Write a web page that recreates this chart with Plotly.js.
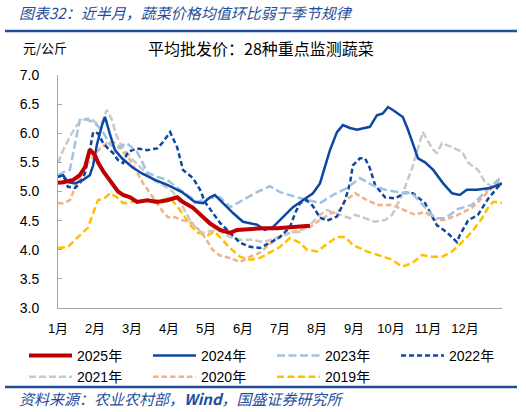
<!DOCTYPE html>
<html>
<head>
<meta charset="utf-8">
<script src="https://cdn.plot.ly/plotly-3.0.1.min.js"></script>
<style>
  body { margin: 0; background: #fff; }
  #chart { width: 526px; height: 412px; }
</style>
</head>
<body>
<div id="chart"></div>
<script>
// 月份标签（x 轴：从 1 月 1 日起的月数）
let monthLabels = ['1月','2月','3月','4月','5月','6月','7月','8月','9月','10月','11月','12月'];

// 各年份数据：x 为月份位置，y 为 元/公斤
let x2025 = [0,0.14,0.41,0.59,0.73,0.86,1.0,1.08,1.22,1.35,1.62,1.76,1.95,2.14,2.41,2.68,2.95,3.22,3.38,3.65,3.92,4.11,4.38,4.65,4.84,5.19,5.54,5.92,6.27,6.54,6.81];
let y2025 = [5.15,5.16,5.2,5.28,5.42,5.72,5.62,5.5,5.35,5.23,5.0,4.94,4.9,4.82,4.85,4.82,4.85,4.9,4.82,4.72,4.57,4.45,4.34,4.29,4.34,4.36,4.37,4.37,4.39,4.41,4.41];

let x2024 = [0,0.14,0.27,0.46,0.68,0.86,0.95,1.05,1.19,1.27,1.41,1.54,1.73,2.0,2.27,2.62,2.97,3.35,3.7,3.92,4.11,4.24,4.46,4.73,5.0,5.38,5.59,5.81,6.08,6.35,6.62,6.89,7.08,7.22,7.35,7.54,7.7,7.89,8.08,8.43,8.62,8.78,8.92,9.05,9.32,9.46,9.59,9.73,9.92,10.14,10.41,10.65,10.86,11.05,11.32,11.68,12.0];
let y2024 = [5.25,5.28,5.16,5.14,5.2,5.28,5.45,5.8,6.14,6.28,5.97,5.71,5.57,5.42,5.31,5.2,5.11,4.99,4.82,4.8,4.9,4.94,4.8,4.63,4.48,4.43,4.34,4.39,4.56,4.73,4.85,4.97,5.14,5.42,5.71,6.02,6.14,6.09,6.06,6.11,6.31,6.34,6.45,6.4,6.28,6.06,5.83,5.57,5.5,5.37,5.14,4.97,4.94,5.03,5.03,5.06,5.14];

let x2023 = [0,0.14,0.32,0.46,0.59,0.78,1.0,1.19,1.41,1.59,1.86,2.14,2.41,2.68,2.95,3.3,3.57,3.76,4.11,4.38,4.65,5.0,5.38,5.73,6.0,6.46,6.81,7.08,7.43,7.81,8.16,8.49,8.84,9.19,9.57,9.92,10.19,10.46,10.81,11.19,11.54,11.89,12.0];
let y2023 = [5.28,5.33,5.37,5.83,6.23,6.24,6.17,6.05,5.8,5.74,5.83,5.68,5.33,5.25,5.2,5.03,4.9,4.82,4.89,4.9,4.73,4.85,4.99,5.09,4.99,4.9,4.85,4.8,4.94,5.06,5.23,5.11,5.03,4.99,4.97,4.72,4.54,4.54,4.7,4.77,4.99,5.2,5.25];

let x2022 = [0,0.14,0.27,0.46,0.59,0.73,0.86,0.95,1.08,1.22,1.35,1.49,1.62,1.76,1.89,2.14,2.41,2.68,2.84,3.03,3.22,3.38,3.65,3.84,3.97,4.16,4.38,4.65,4.92,5.19,5.46,5.73,6.0,6.27,6.41,6.54,6.73,6.89,7.08,7.27,7.54,7.76,7.89,7.97,8.16,8.3,8.43,8.57,8.84,9.11,9.38,9.59,9.73,9.92,10.05,10.24,10.51,10.78,10.86,11.08,11.35,11.62,11.89,12.0];
let y2022 = [5.25,5.28,5.08,5.06,5.14,5.31,5.71,6.02,6.0,5.83,5.74,5.66,5.54,5.49,5.68,5.74,5.71,5.74,5.85,6.02,5.76,5.37,5.23,5.03,4.82,4.66,4.46,4.29,4.12,4.05,4.03,4.12,4.22,4.39,4.63,4.8,4.85,4.75,4.55,4.5,4.57,4.85,5.14,5.45,5.57,5.57,5.4,5.11,4.9,4.88,4.98,4.97,4.9,4.8,4.65,4.42,4.3,4.13,4.25,4.5,4.6,4.87,5.08,5.14];

let x2021 = [0,0.14,0.32,0.51,0.68,0.86,1.05,1.19,1.32,1.46,1.59,1.76,2.03,2.3,2.57,2.84,3.11,3.38,3.57,3.76,3.92,4.11,4.3,4.65,4.92,5.27,5.54,5.73,6.0,6.27,6.54,6.81,7.08,7.27,7.62,7.89,8.03,8.3,8.57,8.84,9.03,9.3,9.57,9.86,10.11,10.24,10.38,10.65,10.92,11.08,11.35,11.54,11.73,12.0];
let y2021 = [5.49,5.71,5.94,6.14,6.23,6.26,6.17,6.19,6.4,6.23,5.94,5.74,5.54,5.37,5.2,5.11,4.99,4.73,4.51,4.34,4.29,4.32,4.34,4.22,4.17,4.17,4.13,4.17,4.22,4.29,4.31,4.43,4.6,4.68,4.6,4.54,4.6,4.54,4.48,4.51,4.6,4.94,5.4,6.02,5.74,5.66,5.83,5.76,5.68,5.5,5.37,5.16,5.08,5.11];

let x2020 = [0,0.14,0.32,0.51,0.73,0.95,1.14,1.32,1.49,1.62,1.76,1.95,2.14,2.3,2.49,2.68,2.84,2.97,3.16,3.35,3.62,3.89,4.05,4.19,4.38,4.65,4.92,5.19,5.46,5.73,6.0,6.27,6.54,6.81,7.08,7.35,7.62,7.76,7.89,8.03,8.35,8.65,9.03,9.38,9.65,9.92,10.19,10.46,10.81,11.19,11.46,11.73,12.0];
let y2020 = [4.8,4.8,4.85,5.14,5.42,5.59,5.74,5.83,5.85,5.8,5.68,5.54,5.31,5.14,4.97,4.8,4.65,4.56,4.56,4.51,4.46,4.29,4.12,3.99,3.9,3.86,3.79,3.88,3.95,4.1,4.22,4.29,4.34,4.39,4.51,4.62,4.68,4.85,4.9,4.97,4.85,4.77,4.77,4.68,4.6,4.65,4.51,4.51,4.6,4.72,4.89,5.06,5.23];

let x2019 = [0,0.27,0.46,0.65,0.81,0.95,1.08,1.27,1.41,1.59,1.76,2.0,2.27,2.54,2.81,3.03,3.24,3.43,3.62,3.78,4.05,4.24,4.38,4.65,4.92,5.19,5.46,5.73,6.0,6.27,6.54,6.73,7.0,7.27,7.54,7.76,7.97,8.08,8.35,8.65,9.03,9.3,9.57,9.84,10.11,10.38,10.65,10.92,11.19,11.46,11.62,11.76,11.89,12.0];
let y2019 = [4.03,4.05,4.17,4.29,4.38,4.63,4.85,4.89,4.97,4.9,4.8,4.82,4.85,4.85,4.85,4.89,4.73,4.56,4.39,4.29,4.25,4.31,4.22,4.03,3.88,3.83,3.86,3.95,4.05,4.2,4.12,4.0,3.97,4.1,4.22,4.22,4.08,4.05,3.97,3.91,3.83,3.71,3.77,3.91,3.88,3.88,3.97,4.13,4.31,4.54,4.72,4.82,4.82,4.8];

let blue = '#1f4e9a';
let font = 'Liberation Sans, Noto Sans CJK SC, sans-serif';
let cjk = 'Noto Sans CJK SC, sans-serif';

// 画在下面的先加，图例反序
let traces = [
  {x: x2019, y: y2019, name: '2019年', line: {color: '#ffc000', width: 2.5, dash: '7px,3.5px'}},
  {x: x2020, y: y2020, name: '2020年', line: {color: '#f4b183', width: 2.5, dash: '5.5px,3px'}},
  {x: x2021, y: y2021, name: '2021年', line: {color: '#c9c9c9', width: 2.5, dash: '7px,3px'}},
  {x: x2022, y: y2022, name: '2022年', line: {color: '#0d47a1', width: 2.5, dash: '5px,3px'}},
  {x: x2023, y: y2023, name: '2023年', line: {color: '#9dc3e6', width: 2.5, dash: '8px,3.5px'}},
  {x: x2024, y: y2024, name: '2024年', line: {color: '#0d47a1', width: 2.5}},
  {x: x2025, y: y2025, name: '2025年', line: {color: '#c00000', width: 4}}
];
traces.forEach(t => { t.type = 'scatter'; t.mode = 'lines'; t.hoverinfo = 'skip'; });

// 像素 -> paper 坐标（绘图区 58..502 x 75..308）
function px(x) { return (x - 58) / 444; }
function py(y) { return (308 - y) / 233; }

let layout = {
  width: 526,
  height: 412,
  margin: {l: 58, r: 24, t: 75, b: 104},
  paper_bgcolor: '#fff',
  plot_bgcolor: '#fff',
  showlegend: true,
  font: {family: font, size: 13, color: '#000'},
  xaxis: {
    range: [0, 12],
    tickvals: [0,1,2,3,4,5,6,7,8,9,10,11],
    ticktext: monthLabels,
    ticks: '',
    showgrid: false,
    zeroline: false,
    showline: true,
    linecolor: '#a6a6a6',
    linewidth: 1,
    ticklabelstandoff: 8,
    tickfont: {family: font, size: 13}
  },
  yaxis: {
    range: [3, 7],
    dtick: 0.5,
    tickformat: '.1f',
    ticks: 'inside',
    ticklen: 4,
    tickcolor: '#a6a6a6',
    showgrid: false,
    zeroline: false,
    showline: true,
    linecolor: '#a6a6a6',
    linewidth: 1,
    ticklabelstandoff: 15,
    tickfont: {family: font, size: 14}
  },
  legend: {
    orientation: 'h',
    traceorder: 'reversed',
    x: px(24), xanchor: 'left',
    y: py(340), yanchor: 'top',
    itemwidth: 43,
    entrywidth: 66,
    entrywidthmode: 'pixels',
    tracegroupgap: 0,
    font: {family: font, size: 14},
    bgcolor: 'rgba(0,0,0,0)'
  },
  shapes: [
    {type: 'line', xref: 'paper', yref: 'paper', x0: px(5), x1: px(517), y0: py(31), y1: py(31), line: {color: blue, width: 2.5}},
    {type: 'line', xref: 'paper', yref: 'paper', x0: px(5), x1: px(517), y0: py(387), y1: py(387), line: {color: blue, width: 2.5}}
  ],
  annotations: [
    {text: '图表32：近半月，蔬菜价格均值环比弱于季节规律', xref: 'paper', yref: 'paper', x: px(17), y: py(13), xanchor: 'left', yanchor: 'middle', showarrow: false,
     font: {family: cjk, size: 15, color: blue, style: 'italic'}},
    {text: '元/公斤', xref: 'paper', yref: 'paper', x: px(21), y: py(47), xanchor: 'left', yanchor: 'middle', showarrow: false,
     font: {family: cjk, size: 13, color: '#000'}},
    {text: '平均批发价：28种重点监测蔬菜', xref: 'paper', yref: 'paper', x: px(261), y: py(48), xanchor: 'center', yanchor: 'middle', showarrow: false,
     font: {family: cjk, size: 16, color: '#000'}},
    {text: '资料来源：农业农村部，<b>Wind</b>，国盛证券研究所', xref: 'paper', yref: 'paper', x: px(17), y: py(398), xanchor: 'left', yanchor: 'middle', showarrow: false,
     font: {family: cjk, size: 15, color: blue, style: 'italic'}}
  ]
};

let gd = document.getElementById('chart');

// 图例线段加长到 43px，和原图一样
function longLegendLines() {
  gd.querySelectorAll('.legendlines path').forEach(p => p.setAttribute('d', 'M5,0h43'));
}

Plotly.newPlot(gd, traces, layout, {staticPlot: true, displayModeBar: false}).then(() => {
  longLegendLines();
  gd.on('plotly_afterplot', longLegendLines);
});
</script>
</body>
</html>
